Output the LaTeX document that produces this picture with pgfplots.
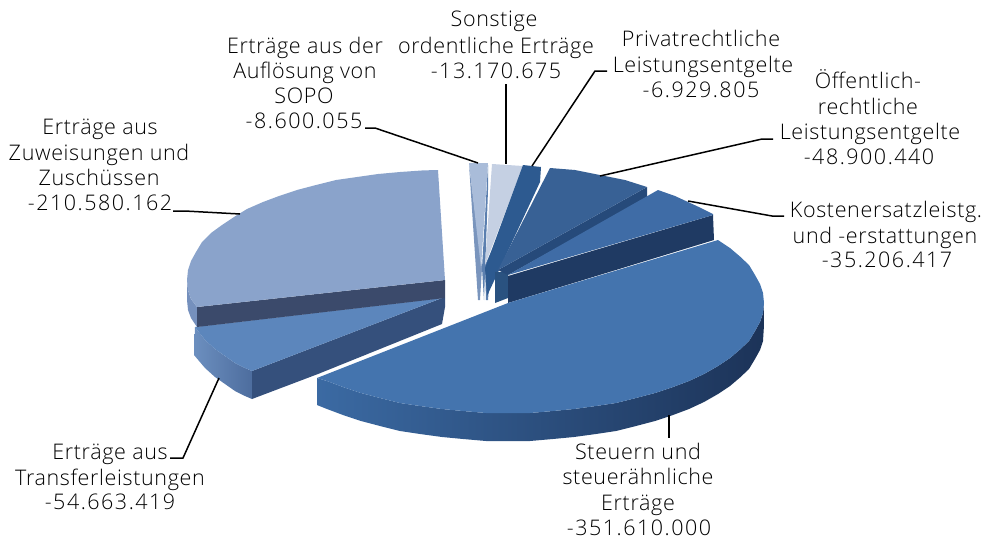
\documentclass[border=0pt]{standalone}
\usepackage{pgfplots}
\pgfplotsset{compat=1.18}
\usepackage{fontspec}
\setmainfont[LetterSpace=3]{Open Sans Light}
\newcommand{\nv}[1]{{\addfontfeature{LetterSpace=7}#1}}
\definecolor{kdark}{HTML}{1F3A63}
\definecolor{ktop}{HTML}{3F6CA6}
\definecolor{otop}{HTML}{386195}
\definecolor{odark}{HTML}{264A7A}
\definecolor{ptop}{HTML}{2D5A90}
\definecolor{stop}{HTML}{4474AE}
\definecolor{zutop}{HTML}{8AA3CB}
\definecolor{zudark}{HTML}{3B4A6B}
\definecolor{zurim}{HTML}{7590BD}
\definecolor{trtop}{HTML}{5C86BC}
\definecolor{trside}{HTML}{35507C}
\definecolor{sopoc}{HTML}{7A95BD}
\definecolor{sopos}{HTML}{5B7FAF}
\definecolor{sopot}{HTML}{A9BCD9}
\definecolor{sont}{HTML}{C5D0E3}
\definecolor{ofr}{HTML}{2A5280}
\definecolor{stl}{HTML}{3B6AA3}
\definecolor{stm}{HTML}{2B4A75}
\definecolor{strr}{HTML}{1C3358}
\definecolor{trl}{HTML}{6C8FBF}
\definecolor{trr}{HTML}{4D6D9E}
\begin{document}
\begin{tikzpicture}
\begin{axis}[scale only axis,width=986pt,height=542pt,xmin=0,xmax=986,ymin=0,ymax=542,y dir=reverse,axis lines=none,clip=false,
 lead/.style={draw=black,line width=1.5pt,no marks},
 face/.style={draw=none,no marks}]
\path (axis cs:0,0) rectangle (axis cs:986,542);
% SOPO
\addplot[face,fill=sopoc] coordinates {(469,164)(478,300)(480,300)(482,268)};
\addplot[face,fill=sopos] coordinates {(488,165)(482,268)(484,300)(488,190)};
\addplot[face,fill=sopot] coordinates {(469,163)(488,163)(481,268)};
% Sonstige
\addplot[face,fill=sopos] coordinates {(485,265)(492,250)(488,300)(486,300)};
\addplot[face,fill=sont] coordinates {(492,164)(523,166)(485,265)};
% Privat
\addplot[face,fill=ptop] coordinates {(523,165)(541,167)(540,182)(487,296)(485,268)};
% Oeff
\addplot[face,fill=ofr] coordinates {(495,272)(508,272)(508,298)(495,303)};
\addplot[face,fill=odark] coordinates {(647,187)(647,198)(508,275)(498,270)};
\addplot[face,fill=otop] coordinates {(498,270)(550,168)(575,170)(600,175)(625,180)(647,187)};
% Kosten
\addplot[face,fill=kdark] coordinates {(508,276)(713,215)(714,240)(508,303)};
\addplot[face,fill=ktop] coordinates {(508,275)(658,190)(675,196)(688,202)(701,208)(713,214)(713,215)};
% Steuern
\addplot[face,left color=stl,middle color=stm,right color=strr] coordinates {(764,303)(763,313)(760,322)(755,331)(749,341)(740,349.5)(730,358)(718,366)(704,374)(689,381)(673,387)(655,393)(636,398)(616,403)(596,406)(574,409)(553,411)(530,413)(508,413)(486,413)(463,411)(442,409)(420,406)(400,403)(380,398)(361,393)(343,387)(327,381)(317,378)(317,405)(327,409)(343,415)(361,421)(380,426)(400,431)(420,434)(442,437)(463,439)(486,441)(508,441)(530,441)(553,439)(574,437)(596,434)(616,431)(636,426)(655,421)(673,415)(689,409)(704,402)(718,394)(730,386)(740,377.5)(749,369)(755,359)(760,350)(763,341)(764,325)};
\addplot[face,fill=stop] coordinates {(508,303)(718,240)(730,248)(740,256.5)(749,265)(755,275)(760,284)(763,293)(764,303)(763,313)(760,322)(755,331)(749,341)(740,349.5)(730,358)(718,366)(704,374)(689,381)(673,387)(655,393)(636,398)(616,403)(596,406)(574,409)(553,411)(530,413)(508,413)(486,413)(463,411)(442,409)(420,406)(400,403)(380,398)(361,393)(343,387)(327,381)(317,378)};
% Transfer
\addplot[face,left color=trl,right color=trr] coordinates {(195,327)(205,340)(215,349)(225,356)(235,363)(245,368)(252,371)(252,399)(245,396)(235,391)(225,384)(215,377)(205,368)(194,355)};
\addplot[face,fill=trside] coordinates {(252,371)(442,298)(445,298)(445,307)(442,324)(318,374)(252,399)};
\addplot[face,fill=trtop] coordinates {(442,298)(195,327)(205,340)(215,349)(225,356)(235,363)(245,368)(252,371)};
% Zuweisungen
\addplot[face,fill=zurim] coordinates {(187,280)(188,290)(191,299)(197,307)(197,327)(191,318)(188,310)(187,300)};
\addplot[face,fill=zudark] coordinates {(445,280)(445,298)(197,327)(197,307)};
\addplot[face,fill=zutop] coordinates {(438,170)(423,170.4)(400,172)(378,174)(357,177)(336,180)(316,185)(297,190)(279,196)(263,202)(247,209)(234,217)(222,225)(211,233)(202,242)(196,252)(191,261)(188,270)(187,280)(188,290)(191,299)(197,307)(445,280)};
% leaders
\addplot[lead] coordinates {(365,128)(375,128)(478,163)};
\addplot[lead] coordinates {(506,84)(506,164)};
\addplot[lead] coordinates {(607,71)(595,71)(532,166)};
\addplot[lead] coordinates {(773,139)(762,139)(600,176)};
\addplot[lead] coordinates {(784,216)(772,216)(688,201)};
\addplot[lead] coordinates {(173,211)(185,211)(240,214)};
\addplot[lead] coordinates {(170,458)(183,458)(219,378)};
\addplot[lead] coordinates {(669,415)(669,438)};
% labels
\tikzset{lb/.style={anchor=base,inner sep=0pt,font=\fontsize{21.5}{24}\selectfont,text=black}}
\node[lb] at (axis cs:494,26) {Sonstige};
\node[lb] at (axis cs:496,53) {ordentliche Erträge};
\node[lb] at (axis cs:496,78) {\nv{-13.170.675}};
\node[lb] at (axis cs:305,53) {Erträge aus der};
\node[lb] at (axis cs:305,78) {Auflösung von};
\node[lb] at (axis cs:304,103) {SOPO};
\node[lb] at (axis cs:304,128) {\nv{-8.600.055}};
\node[lb] at (axis cs:701,46) {Privatrechtliche};
\node[lb] at (axis cs:703,72) {Leistungsentgelte};
\node[lb] at (axis cs:701,97) {\nv{-6.929.805}};
\node[lb] at (axis cs:868,88) {Öffentlich-};
\node[lb] at (axis cs:868,114) {rechtliche};
\node[lb] at (axis cs:870,139) {Leistungsentgelte};
\node[lb] at (axis cs:869,164) {\nv{-48.900.440}};
\node[lb] at (axis cs:886,217) {Kostenersatzleistg.};
\node[lb] at (axis cs:885,243) {und -erstattungen};
\node[lb] at (axis cs:887,267) {\nv{-35.206.417}};
\node[lb] at (axis cs:100,134) {Erträge aus};
\node[lb] at (axis cs:99,160) {Zuweisungen und};
\node[lb] at (axis cs:99,185) {Zuschüssen};
\node[lb] at (axis cs:100,210) {\nv{-210.580.162}};
\node[lb] at (axis cs:110,459) {Erträge aus};
\node[lb] at (axis cs:110,485) {Transferleistungen};
\node[lb] at (axis cs:110,509) {\nv{-54.663.419}};
\node[lb] at (axis cs:638,459) {Steuern und};
\node[lb] at (axis cs:638,484) {steuerähnliche};
\node[lb] at (axis cs:638,510) {Erträge};
\node[lb] at (axis cs:639,535) {\nv{-351.610.000}};
\end{axis}
\end{tikzpicture}
\end{document}
